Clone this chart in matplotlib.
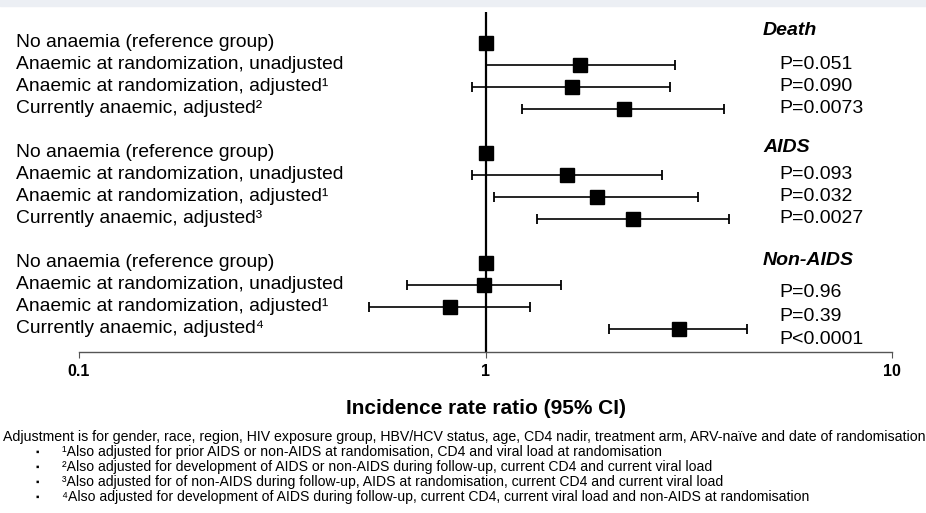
import numpy as np
import matplotlib.pyplot as plt
from matplotlib.transforms import blended_transform_factory
from matplotlib.patches import Rectangle

# data
groups = ["Death", "AIDS", "Non-AIDS"]
row_labels = [
    ["No anaemia (reference group)", "Anaemic at randomization, unadjusted",
     "Anaemic at randomization, adjusted¹", "Currently anaemic, adjusted²"],
    ["No anaemia (reference group)", "Anaemic at randomization, unadjusted",
     "Anaemic at randomization, adjusted¹", "Currently anaemic, adjusted³"],
    ["No anaemia (reference group)", "Anaemic at randomization, unadjusted",
     "Anaemic at randomization, adjusted¹", "Currently anaemic, adjusted⁴"],
]
irr = [[1.0, 1.71, 1.63, 2.19],
       [1.0, 1.59, 1.88, 2.31],
       [1.0, 0.99, 0.82, 3.00]]
ci_low = [[np.nan, 1.00, 0.925, 1.23],
          [np.nan, 0.925, 1.05, 1.34],
          [np.nan, 0.64, 0.518, 2.01]]
ci_high = [[np.nan, 2.92, 2.85, 3.86],
           [np.nan, 2.72, 3.33, 3.97],
           [np.nan, 1.53, 1.29, 4.39]]
pvals = [["P=0.051", "P=0.090", "P=0.0073"],
         ["P=0.093", "P=0.032", "P=0.0027"],
         ["P=0.96", "P=0.39", "P<0.0001"]]

xlabel = "Incidence rate ratio (95% CI)"
footnote_main = ("Adjustment is for gender, race, region, HIV exposure group, HBV/HCV status, age, "
                 "CD4 nadir, treatment arm, ARV-naïve and date of randomisation")
footnotes = [
    "¹Also adjusted for prior AIDS or non-AIDS at randomisation, CD4 and viral load at randomisation",
    "²Also adjusted for development of AIDS or non-AIDS during follow-up, current CD4 and current viral load",
    "³Also adjusted for of non-AIDS during follow-up, AIDS at randomisation, current CD4 and current viral load",
    "⁴Also adjusted for development of AIDS during follow-up, current CD4, current viral load and non-AIDS at randomisation",
]

W, H = 926, 513
fig = plt.figure(figsize=(W / 100, H / 100), dpi=100)
fam = ["Liberation Sans", "DejaVu Sans"]

# grey strip at the top (cut off page header)
fig.patches.append(Rectangle((0, 1 - 6 / H), 1, 6 / H, transform=fig.transFigure,
                             color="#eceff4", zorder=0))

px0, px1 = 79, 892
top_px, bot_px = 12, 352
ax = fig.add_axes([px0 / W, 1 - bot_px / H, (px1 - px0) / W, (bot_px - top_px) / H])
ax.set_xscale("log")
ax.set_xlim(0.1, 10)
row0, step = 43, 22
ax.set_ylim((bot_px - row0) / step, (top_px - row0) / step)

for s in ["top", "right", "left"]:
    ax.spines[s].set_visible(False)
ax.spines["bottom"].set_color("#555555")
ax.spines["bottom"].set_linewidth(1.0)
ax.set_yticks([])
ax.set_xticks([0.1, 1, 10])
ax.set_xticklabels(["0.1", "1", "10"], fontweight="bold", fontsize=11.5, family=fam)
ax.xaxis.set_minor_locator(plt.NullLocator())
ax.tick_params(axis="x", direction="out", length=4, color="#555555", pad=5)
ax.axvline(1, color="black", lw=1.6, zorder=1)

trans = blended_transform_factory(fig.transFigure, ax.transData)
head_off = [-0.59, -0.23, -0.1]
p_off = [[0, 0, 0], [0, 0, 0], [0.32, 0.41, 0.5]]

for g in range(len(groups)):
    ys = [g * 5 + i for i in range(4)]
    for i, y in enumerate(ys):
        ax.text(16 / W, y, row_labels[g][i], transform=trans, fontsize=13.9,
                family=fam, va="center", ha="left")
        if not np.isnan(ci_low[g][i]):
            ax.errorbar(irr[g][i], y,
                        xerr=[[irr[g][i] - ci_low[g][i]], [ci_high[g][i] - irr[g][i]]],
                        fmt="none", ecolor="black", elinewidth=1.2, capsize=3.5,
                        capthick=1.3, zorder=2)
        ax.plot(irr[g][i], y, marker="s", ms=10, color="black", ls="none",
                zorder=3)
    ax.text(763 / W, g * 5 + head_off[g], groups[g], transform=trans,
            fontsize=14, fontweight="bold", style="italic", family=fam,
            va="center", ha="left")
    for i, p in enumerate(pvals[g]):
        ax.text(779 / W, ys[i + 1] + p_off[g][i], p, transform=trans,
                fontsize=14, family=fam, va="center", ha="left")

fig.text(486 / W, 1 - 409 / H, xlabel, fontsize=15, fontweight="bold",
         family=fam, ha="center", va="center")
fig.text(3 / W, 1 - 437 / H, footnote_main, fontsize=10.2, family=fam,
         ha="left", va="center")
for k, t in enumerate(footnotes):
    yy = 1 - (452 + 15 * k) / H
    fig.text(36 / W, yy, "▪", fontsize=7, family=fam, ha="left", va="center")
    fig.text(62 / W, yy, t, fontsize=10.1, family=fam, ha="left", va="center")

fig.savefig("out.png", dpi=100)
